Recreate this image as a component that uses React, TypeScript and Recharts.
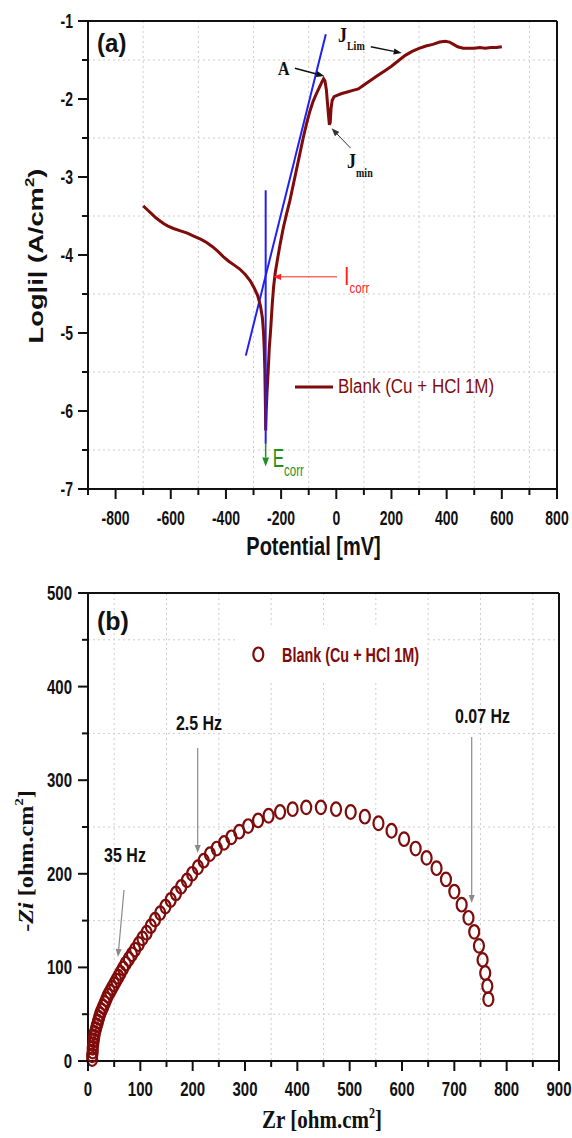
import {
  CartesianGrid,
  Legend,
  Line,
  LineChart,
  ReferenceDot,
  ReferenceLine,
  Scatter,
  ScatterChart,
  XAxis,
  YAxis,
} from "recharts";

const SANS = "'Liberation Sans', Arial, Helvetica, sans-serif";
const SERIF = "'Liberation Serif', 'Times New Roman', serif";
const INK = "#111";
const BROWN = "#7f0b0b";
const BLUE = "#2020f2";
const GRID = "#cdcdcd";
const RED = "#ff2222";
const GREEN = "#1f8f1f";
const GRAY = "#8a8a8a";

// (a) Tafel plot: potential (mV) vs log|i| (A/cm2)
const polarization: [number, number][] = [
  [-700, -3.37], [-685, -3.42], [-670, -3.47], [-655, -3.52], [-640, -3.56],
  [-625, -3.6], [-610, -3.63], [-590, -3.66], [-565, -3.69], [-540, -3.72],
  [-515, -3.76], [-490, -3.8], [-470, -3.84], [-450, -3.89], [-430, -3.95],
  [-410, -4.02], [-390, -4.08], [-370, -4.13], [-350, -4.18], [-330, -4.25],
  [-312, -4.33], [-298, -4.42], [-285, -4.52], [-275, -4.65], [-268, -4.8],
  [-264, -4.98], [-261, -5.22], [-259, -5.48], [-257.5, -5.8], [-256.5, -6.05],
  [-256, -6.25], [-254, -6.0], [-251, -5.75], [-247, -5.5], [-243, -5.2],
  [-238, -4.96], [-232, -4.62], [-227, -4.4], [-221, -4.22], [-213, -4.05],
  [-204, -3.87], [-192, -3.65], [-180, -3.47], [-168, -3.3], [-156, -3.1],
  [-144, -2.9], [-132, -2.7], [-120, -2.5], [-108, -2.32], [-96, -2.16],
  [-84, -2.03], [-72, -1.93], [-60, -1.84], [-52, -1.78], [-46, -1.74],
  [-41, -1.77], [-36, -1.88], [-32, -2.05], [-28, -2.22], [-25, -2.33],
  [-22, -2.3], [-19, -2.12], [-15, -2.02], [-8, -1.97], [5, -1.95],
  [20, -1.93], [40, -1.91], [60, -1.89], [80, -1.87], [100, -1.82],
  [125, -1.76], [150, -1.7], [175, -1.64], [200, -1.58], [225, -1.51],
  [250, -1.44], [275, -1.39], [300, -1.35], [325, -1.32], [350, -1.3],
  [375, -1.27], [395, -1.26], [410, -1.27], [425, -1.3], [440, -1.33],
  [460, -1.35], [480, -1.35], [500, -1.35], [520, -1.34], [540, -1.35],
  [560, -1.34], [580, -1.34], [600, -1.33],
];
const tafelLine: [number, number][] = [[-328, -5.29], [-38, -1.17]];
const ecorrLine: [number, number][] = [[-256, -3.17], [-256, -6.42]];

const potentialTicks = [
  -900, -800, -700, -600, -500, -400, -300, -200, -100,
  0, 100, 200, 300, 400, 500, 600, 700, 800,
];
const logTicks = [-7, -6.5, -6, -5.5, -5, -4.5, -4, -3.5, -3, -2.5, -2, -1.5, -1];
const potentialGrid = [-700, -500, -300, -100, 100, 300, 500, 700];
const logGrid = [-6.5, -5.5, -4.5, -3.5, -2.5, -1.5];

// (b) Nyquist plot: Zr vs -Zi (ohm.cm2)
const nyquist: [number, number][] = [
  [8, 2], [8, 6], [9, 10], [9, 14], [10, 18], [11, 22], [12, 26], [13, 30],
  [15, 34], [17, 38], [19, 42], [21, 46], [23, 50], [26, 54], [29, 58],
  [32, 62], [35, 66], [38, 70], [42, 74], [46, 78], [50, 82], [54, 86],
  [58, 90], [62, 94], [67, 99], [72, 104], [78, 109], [84, 114], [90, 119],
  [97, 125], [104, 131], [112, 137], [120, 144], [128, 151], [138, 158],
  [148, 165], [158, 172], [168, 179], [178, 186], [189, 193], [199, 200],
  [210, 207], [221, 214], [233, 221], [246, 227], [260, 233], [274, 239],
  [289, 245], [306, 251], [325, 257], [345, 262], [367, 266], [391, 269],
  [417, 271], [445, 271], [474, 269], [502, 266], [529, 261], [555, 254],
  [580, 246], [604, 237], [626, 227], [647, 217], [666, 206], [684, 194],
  [700, 181], [714, 167], [727, 153], [738, 138], [747, 123], [754, 108],
  [759, 94], [763, 80], [765, 66],
];
const zrTicks = [0, 50, 100, 150, 200, 250, 300, 350, 400, 450, 500, 550, 600, 650, 700, 750, 800, 850, 900];
const ziTicks = [0, 50, 100, 150, 200, 250, 300, 350, 400, 450, 500];
const zrGrid = [50, 150, 250, 350, 450, 550, 650, 750, 850];
const ziGrid = [50, 150, 250, 350, 450];

const toXY = (rows: [number, number][]) => rows.map(([x, y]) => ({ x, y }));

// the source figure is stretched vertically, so text is drawn taller than wide
function Txt({
  x, y, size, sy = 1.35, weight = 700, family = SANS, fill = INK,
  anchor = "start", rotate = false, children,
}: any) {
  const transform = rotate
    ? `translate(${x} ${y}) rotate(-90) scale(${sy} 1)`
    : `translate(${x} ${y}) scale(1 ${sy})`;
  return (
    <text
      transform={transform}
      fontSize={size}
      fontWeight={weight}
      fontFamily={family}
      fill={fill}
      textAnchor={anchor}
    >
      {children}
    </text>
  );
}

const xTick = (step: number, gap: number, size: number) => (p: any) => {
  const major = p.payload.value % step === 0;
  return (
    <g>
      <line x1={p.x} x2={p.x} y1={p.y} y2={p.y + (major ? 10 : 6)} stroke={INK} strokeWidth={2} />
      {major && (
        <Txt x={p.x} y={p.y + gap} size={size} sy={1.4} anchor="middle">
          {p.payload.value}
        </Txt>
      )}
    </g>
  );
};

const yTick = (step: number, gap: number, size: number) => (p: any) => {
  const major = p.payload.value % step === 0;
  return (
    <g>
      <line x1={p.x - (major ? 10 : 6)} x2={p.x} y1={p.y} y2={p.y} stroke={INK} strokeWidth={2} />
      {major && (
        <Txt x={p.x - gap} y={p.y + 7} size={size} sy={1.4} anchor="end">
          {p.payload.value}
        </Txt>
      )}
    </g>
  );
};

const arrow = (color: string, width: number, head: number) => (p: any) => {
  const { x1, y1, x2, y2 } = p;
  const a = Math.atan2(y2 - y1, x2 - x1);
  const w = head * 0.38;
  const bx = x2 - head * Math.cos(a);
  const by = y2 - head * Math.sin(a);
  const pts = [
    [x2, y2],
    [bx + w * Math.sin(a), by - w * Math.cos(a)],
    [bx - w * Math.sin(a), by + w * Math.cos(a)],
  ]
    .map((q) => q.join(","))
    .join(" ");
  return (
    <g>
      <line x1={x1} y1={y1} x2={bx} y2={by} stroke={color} strokeWidth={width} />
      <polygon points={pts} fill={color} />
    </g>
  );
};

const axisLine = { stroke: INK, strokeWidth: 2 };

function PolarizationChart() {
  return (
    <LineChart width={572} height={560} margin={{ top: 21, right: 15, bottom: 0, left: 0 }}>
      <CartesianGrid
        stroke={GRID}
        strokeDasharray="2 3"
        verticalValues={potentialGrid}
        horizontalValues={logGrid}
      />
      <XAxis
        type="number"
        dataKey="x"
        domain={[-900, 800]}
        ticks={potentialTicks}
        interval={0}
        height={71}
        tickSize={0}
        tickMargin={0}
        tickLine={false}
        axisLine={axisLine}
        tick={xTick(200, 36, 14)}
        label={{
          content: ({ viewBox }: any) => (
            <Txt x={viewBox.x + viewBox.width / 2 - 9} y={viewBox.y + 66} size={20} sy={1.3} anchor="middle">
              Potential [mV]
            </Txt>
          ),
        }}
      />
      <YAxis
        type="number"
        domain={[-7, -1]}
        ticks={logTicks}
        interval={0}
        width={88}
        tickSize={0}
        tickMargin={0}
        tickLine={false}
        axisLine={axisLine}
        tick={yTick(1, 15, 14)}
        label={{
          content: ({ viewBox }: any) => (
            <Txt x={viewBox.x + 43} y={viewBox.y + viewBox.height / 2 + 1} size={21} sy={1.3} anchor="middle" rotate>
              Log|i| (A/cm<tspan dy={-9} fontSize={13}>2</tspan>
              <tspan dy={9}>)</tspan>
            </Txt>
          ),
        }}
      />
      <ReferenceLine y={-1} stroke={INK} strokeWidth={2} />
      <ReferenceLine x={800} stroke={INK} strokeWidth={2} />

      <Line data={toXY(tafelLine)} dataKey="y" stroke={BLUE} strokeWidth={2} dot={false} activeDot={false} isAnimationActive={false} legendType="none" />
      <Line data={toXY(polarization)} dataKey="y" name="Blank (Cu + HCl 1M)" stroke={BROWN} strokeWidth={3} dot={false} activeDot={false} isAnimationActive={false} />
      <Line data={toXY(ecorrLine)} dataKey="y" stroke={BLUE} strokeWidth={2} dot={false} activeDot={false} isAnimationActive={false} legendType="none" />

      <ReferenceDot x={-867} y={-1.4} ifOverflow="visible" shape={(p: any) => (
        <Txt x={p.cx} y={p.cy} size={24} sy={1.1}>(a)</Txt>
      )} />
      <ReferenceDot x={-211} y={-1.69} ifOverflow="visible" shape={(p: any) => (
        <Txt x={p.cx} y={p.cy} size={16} sy={1.15} family={SERIF}>A</Txt>
      )} />
      <ReferenceLine segment={[{ x: -150, y: -1.606 }, { x: -43.5, y: -1.705 }]} ifOverflow="visible" shape={arrow(INK, 1.4, 8)} />
      <ReferenceDot x={6} y={-1.27} ifOverflow="visible" shape={(p: any) => (
        <Txt x={p.cx} y={p.cy} size={18} sy={1.15} family={SERIF}>
          J<tspan dy={7} fontSize={10}>Lim</tspan>
        </Txt>
      )} />
      <ReferenceLine segment={[{ x: 125, y: -1.33 }, { x: 237, y: -1.41 }]} ifOverflow="visible" shape={arrow(INK, 1.4, 8)} />
      <ReferenceDot x={39} y={-2.88} ifOverflow="visible" shape={(p: any) => (
        <Txt x={p.cx} y={p.cy} size={18} sy={1.15} family={SERIF}>
          J<tspan dy={8} fontSize={10}>min</tspan>
        </Txt>
      )} />
      <ReferenceLine segment={[{ x: 52, y: -2.63 }, { x: -17, y: -2.376 }]} ifOverflow="visible" shape={arrow("#333", 1, 8)} />
      <ReferenceLine segment={[{ x: 2.5, y: -4.28 }, { x: -229, y: -4.28 }]} ifOverflow="visible" shape={arrow(RED, 1, 8)} />
      <ReferenceDot x={28} y={-4.385} ifOverflow="visible" shape={(p: any) => (
        <Txt x={p.cx} y={p.cy} size={20} sy={1.3} weight={400} fill={RED}>
          I<tspan dy={6} fontSize={11.5}>corr</tspan>
        </Txt>
      )} />
      <ReferenceLine segment={[{ x: -256, y: -6.41 }, { x: -256, y: -6.71 }]} ifOverflow="visible" shape={arrow(GREEN, 1.5, 9)} />
      <ReferenceDot x={-230.5} y={-6.718} ifOverflow="visible" shape={(p: any) => (
        <Txt x={p.cx} y={p.cy} size={17} sy={1.5} weight={400} fill={GREEN}>
          E<tspan dy={6} fontSize={11.5}>corr</tspan>
        </Txt>
      )} />

      <Legend
        layout="vertical"
        align="center"
        verticalAlign="middle"
        wrapperStyle={{ left: 295, top: 375, width: 215, height: 26 }}
        content={() => (
          <svg width={215} height={26}>
            <line x1={0} x2={38} y1={12} y2={12} stroke={BROWN} strokeWidth={3} />
            <Txt x={43} y={18} size={17} sy={1.15} weight={400} fill={BROWN}>
              Blank (Cu + HCl 1M)
            </Txt>
          </svg>
        )}
      />
    </LineChart>
  );
}

const ring = (p: any) => (
  <ellipse cx={p.cx} cy={p.cy} rx={5} ry={6.8} fill="none" stroke={BROWN} strokeWidth={2.2} />
);

function NyquistChart() {
  const points = nyquist.map(([zr, zi]) => ({ zr, zi }));
  return (
    <ScatterChart width={572} height={578} margin={{ top: 33, right: 13, bottom: 0, left: 0 }}>
      <CartesianGrid stroke={GRID} strokeDasharray="2 3" verticalValues={zrGrid} horizontalValues={ziGrid} />
      <XAxis
        type="number"
        dataKey="zr"
        domain={[0, 900]}
        ticks={zrTicks}
        interval={0}
        height={77}
        tickSize={0}
        tickMargin={0}
        tickLine={false}
        axisLine={axisLine}
        tick={xTick(100, 35, 15)}
        label={{
          content: ({ viewBox }: any) => (
            <Txt x={viewBox.x + viewBox.width / 2 - 1.5} y={viewBox.y + 67} size={21} sy={1.15} family={SERIF} anchor="middle">
              Zr [ohm.cm<tspan dy={-9} fontSize={12}>2</tspan>
              <tspan dy={9}>]</tspan>
            </Txt>
          ),
        }}
      />
      <YAxis
        type="number"
        dataKey="zi"
        domain={[0, 500]}
        ticks={ziTicks}
        interval={0}
        width={88}
        tickSize={0}
        tickMargin={0}
        tickLine={false}
        axisLine={axisLine}
        tick={yTick(100, 16, 15)}
        label={{
          content: ({ viewBox }: any) => (
            <Txt x={viewBox.x + 33} y={viewBox.y + viewBox.height / 2 + 34} size={21} sy={1.15} family={SERIF} anchor="middle" rotate>
              -<tspan fontStyle="italic">Zi</tspan> [ohm.cm<tspan dy={-10} fontSize={13}>2</tspan>
              <tspan dy={10}>]</tspan>
            </Txt>
          ),
        }}
      />
      <ReferenceLine y={500} stroke={INK} strokeWidth={2} />
      <ReferenceLine x={900} stroke={INK} strokeWidth={2} />

      <Scatter data={points} name="Blank (Cu + HCl 1M)" shape={ring} isAnimationActive={false} />

      <ReferenceDot x={17.2} y={460.5} ifOverflow="visible" shape={(p: any) => (
        <Txt x={p.cx} y={p.cy} size={25} sy={1.0}>(b)</Txt>
      )} />
      <ReferenceDot x={70.7} y={212.6} ifOverflow="visible" shape={(p: any) => (
        <Txt x={p.cx} y={p.cy} size={16} sy={1.3} anchor="middle">35 Hz</Txt>
      )} />
      <ReferenceLine segment={[{ x: 68.8, y: 182.7 }, { x: 57.3, y: 111.1 }]} ifOverflow="visible" shape={arrow(GRAY, 1.2, 8)} />
      <ReferenceDot x={212.1} y={353.6} ifOverflow="visible" shape={(p: any) => (
        <Txt x={p.cx} y={p.cy} size={16} sy={1.3} anchor="middle">2.5 Hz</Txt>
      )} />
      <ReferenceLine segment={[{ x: 209.6, y: 334.4 }, { x: 209.6, y: 222.2 }]} ifOverflow="visible" shape={arrow(GRAY, 1.2, 8)} />
      <ReferenceDot x={753.9} y={361.1} ifOverflow="visible" shape={(p: any) => (
        <Txt x={p.cx} y={p.cy} size={16} sy={1.3} anchor="middle">0.07 Hz</Txt>
      )} />
      <ReferenceLine segment={[{ x: 733.2, y: 346.2 }, { x: 733.2, y: 168.8 }]} ifOverflow="visible" shape={arrow(GRAY, 1.2, 8)} />

      <Legend
        layout="vertical"
        align="center"
        verticalAlign="middle"
        wrapperStyle={{ left: 238, top: 68, width: 189, height: 54, background: "#fff" }}
        content={() => (
          <svg width={189} height={54}>
            <ellipse cx={20.3} cy={26.3} rx={5} ry={6.8} fill="none" stroke={BROWN} strokeWidth={2.2} />
            <Txt x={44} y={34} size={14.4} sy={1.35} fill={BROWN}>
              Blank (Cu + HCl 1M)
            </Txt>
          </svg>
        )}
      />
    </ScatterChart>
  );
}

export default function App() {
  return (
    <div style={{ position: "absolute", left: 0, top: 0, width: 572, height: 1138, background: "#fff" }}>
      <div style={{ position: "absolute", left: 0, top: 0 }}>
        <PolarizationChart />
      </div>
      <div style={{ position: "absolute", left: 0, top: 560 }}>
        <NyquistChart />
      </div>
    </div>
  );
}
